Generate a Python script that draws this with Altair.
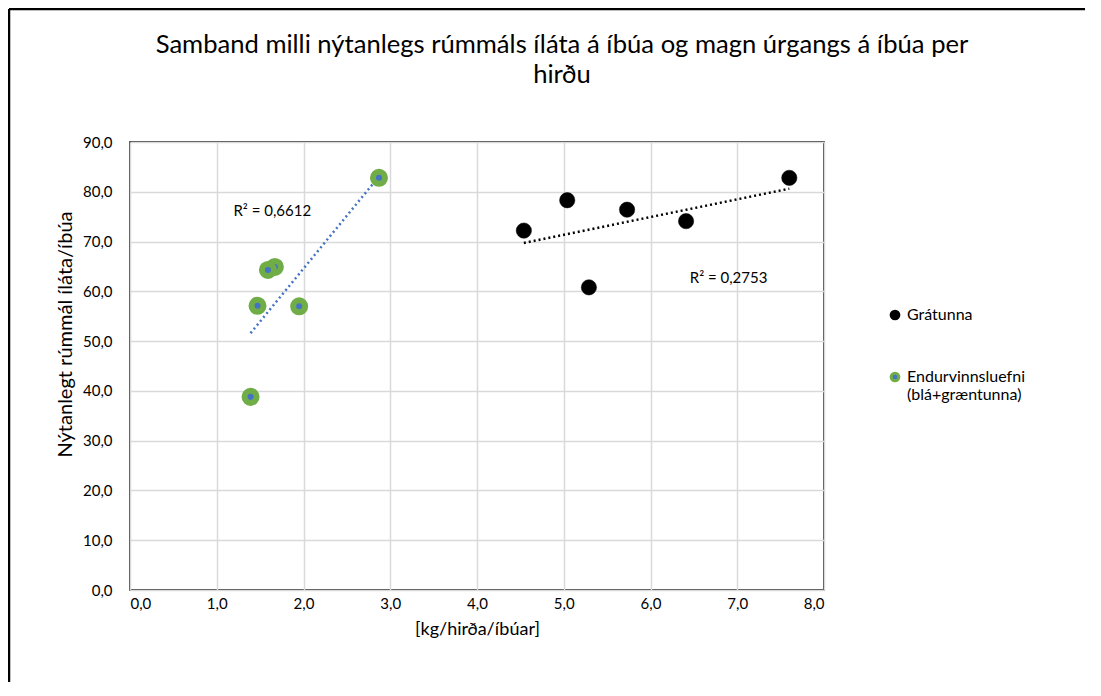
import altair as alt
import pandas as pd

# Data
series_names = ["Grátunna", "Endurvinnsluefni (blá+græntunna)"]
gray_x = [4.54, 5.04, 5.29, 5.73, 6.41, 7.60]
gray_y = [72.2, 78.3, 60.8, 76.4, 74.1, 82.8]
green_x = [2.87, 1.67, 1.59, 1.47, 1.95, 1.39]
green_y = [82.8, 64.9, 64.3, 57.1, 57.0, 38.8]
r2_text = ["R² = 0,6612", "R² = 0,2753"]
r2_x = [1.64, 6.90]
r2_y = [76.1, 62.6]

title_lines = ["Samband milli nýtanlegs rúmmáls íláta á íbúa og magn úrgangs á íbúa per", "hirðu"]
x_title = "[kg/hirða/íbúar]"
y_title = "Nýtanlegt rúmmál íláta/íbúa"

df = pd.DataFrame({
    "series": [series_names[0]] * len(gray_x) + [series_names[1]] * len(green_x),
    "x": gray_x + green_x,
    "y": gray_y + green_y,
})
lab = pd.DataFrame({"t": r2_text, "x": r2_x, "y": r2_y})
ttl = pd.DataFrame({"t": title_lines, "line": [0, 1]})

FONT = "Lato"
W, H = 694, 448
PL, PT, PR, PB = 122, 134, 262, 92

BLUE = "#4472C4"
GREEN = "#70AD47"

fmt = "replace(format(datum.value, '.1f'), '.', ',')"
xs = alt.Scale(domain=[0, 8], nice=False, zero=False)
ys = alt.Scale(domain=[0, 90], nice=False, zero=False)
xenc = alt.X("x:Q", scale=xs, title=x_title,
             axis=alt.Axis(values=list(range(0, 9)), labelExpr=fmt, tickSize=0, ticks=False,
                           domain=False, labelPadding=6, titlePadding=9))
yenc = alt.Y("y:Q", scale=ys, title=y_title,
             axis=alt.Axis(values=list(range(0, 91, 10)), labelExpr=fmt, tickSize=0, ticks=False,
                           domain=False, labelPadding=18, titleX=-65, titleY=192,
                           titleFontSize=20,
                           titleAlign="center", titleBaseline="middle", titleAngle=270))

lexpr = "datum.label == 'Grátunna' ? datum.label : split(datum.label, ' ')"
leg = alt.Legend(title=None, orient="none", legendX=757, legendY=165, labelExpr=lexpr)
fill_enc = alt.Fill("series:N", scale=alt.Scale(domain=series_names, range=["#000000", BLUE]), legend=leg)
stroke_enc = alt.Stroke("series:N", scale=alt.Scale(domain=series_names, range=["#000000", GREEN]), legend=leg)

points_gray = alt.Chart(df).transform_filter(
    alt.datum.series == series_names[0]
).mark_point(shape="circle", filled=True, opacity=1, size=235, strokeWidth=0.5).encode(
    x=xenc, y=yenc, fill=fill_enc, stroke=stroke_enc,
)
points_green = alt.Chart(df).transform_filter(
    alt.datum.series == series_names[1]
).mark_point(shape="circle", filled=True, opacity=1, size=145, strokeWidth=6).encode(
    x=xenc, y=yenc, fill=fill_enc, stroke=stroke_enc,
)

trend_green = alt.Chart(df).transform_filter(
    alt.datum.series == series_names[1]
).transform_regression("x", "y").mark_line(
    color=BLUE, strokeWidth=2.5, strokeDash=[2, 3]
).encode(x=alt.X("x:Q", scale=xs), y=alt.Y("y:Q", scale=ys))

trend_gray = alt.Chart(df).transform_filter(
    alt.datum.series == series_names[0]
).transform_regression("x", "y").mark_line(
    color="#000000", strokeWidth=2.5, strokeDash=[2, 3]
).encode(x=alt.X("x:Q", scale=xs), y=alt.Y("y:Q", scale=ys))

labels = alt.Chart(lab).mark_text(font=FONT, fontSize=15, color="#000000").encode(
    x=alt.X("x:Q", scale=xs), y=alt.Y("y:Q", scale=ys), text="t:N"
)

title1 = alt.Chart(ttl).transform_filter(alt.datum.line == 0).mark_text(
    font=FONT, fontSize=25.6, color="#000000", align="center", baseline="middle"
).encode(x=alt.value(432), y=alt.value(-97), text="t:N")
title2 = alt.Chart(ttl).transform_filter(alt.datum.line == 1).mark_text(
    font=FONT, fontSize=25.6, color="#000000", align="center", baseline="middle"
).encode(x=alt.value(432), y=alt.value(-67), text="t:N")

border = pd.DataFrame({"k": [0]})
top_line = alt.Chart(border).mark_rule(color="#000000", strokeWidth=2.5).encode(
    x=alt.value(-PL + 1), x2=alt.value(W + PR - 1), y=alt.value(-PT + 1)
)
left_line = alt.Chart(border).mark_rule(color="#000000", strokeWidth=2.5).encode(
    x=alt.value(-PL + 1), y=alt.value(-PT + 1), y2=alt.value(H + PB)
)

chart = alt.layer(trend_green, trend_gray, points_gray, points_green, labels,
                  title1, title2, top_line, left_line).properties(
    width=W, height=H,
    padding={"left": PL, "top": PT, "right": PR, "bottom": PB},
    autosize=alt.AutoSizeParams(type="none"),
    background="white",
).configure_view(
    stroke="#000000", strokeWidth=1.5
).configure_axis(
    grid=True, gridColor="#D9D9D9", gridWidth=1.5,
    labelFont=FONT, labelFontSize=15, labelColor="#000000",
    titleFont=FONT, titleFontSize=18, titleFontWeight="normal", titleColor="#000000",
).configure_legend(
    labelFont=FONT, labelFontSize=16, labelColor="#000000", symbolSize=60, symbolStrokeWidth=3,
    rowPadding=42, labelOffset=4,
)

chart.save("out.html", embed_options={"renderer": "svg", "actions": False})
